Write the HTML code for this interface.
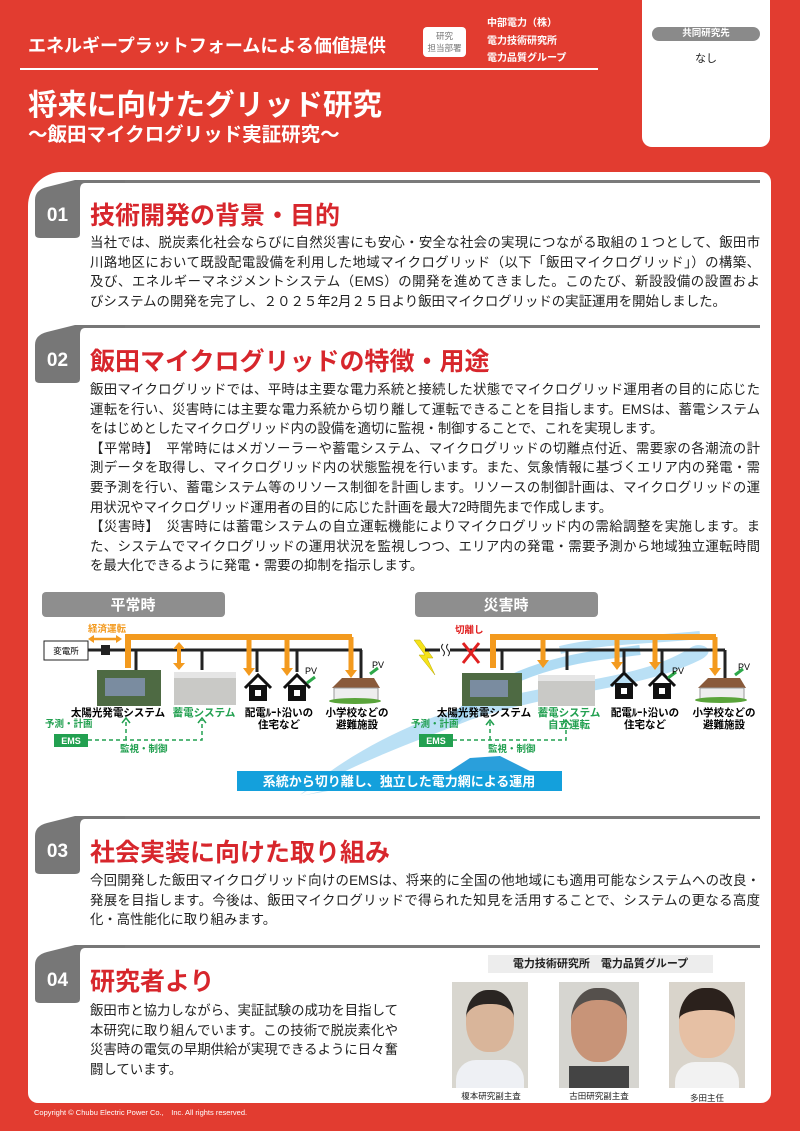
<!DOCTYPE html>
<html><head><meta charset="utf-8">
<style>
*{margin:0;padding:0;box-sizing:border-box}
body{width:800px;height:1131px;position:relative;overflow:hidden;background:#e23c30;font-family:"Liberation Sans","Noto Sans CJK JP",sans-serif;color:#222}
.a{position:absolute;white-space:nowrap}
.card{position:absolute;left:28px;top:172px;width:743px;height:931px;background:#fff;border-radius:34px 10px 10px 10px}
.sec-line{position:absolute;left:78px;width:682px;height:3px;background:#7a7a7a}
.tab{position:absolute;left:35px;width:90px;height:60px}
.tab span{position:absolute;left:0;top:14px;width:45px;text-align:center;color:#fff;font-weight:bold;font-size:19px;line-height:44px}
.h{position:absolute;left:90px;color:#d7262c;font-weight:bold;font-size:25px;white-space:nowrap}
.p{position:absolute;left:90px;width:670px;font-size:13.4px;line-height:19.6px}
.p div{text-align:justify;text-align-last:justify;white-space:nowrap;overflow:visible}
.p div.l{text-align-last:left}
</style></head><body>
<!-- header -->
<div class="a" style="left:28px;top:32px;color:#fff;font-weight:bold;font-size:18px">エネルギープラットフォームによる価値提供</div>
<div class="a" style="left:423px;top:27px;width:43px;height:30px;background:#fff;border-radius:4px;color:#777;font-size:8.5px;text-align:center;line-height:12px;padding-top:3px">研究<br>担当部署</div>
<div class="a" style="left:487px;top:15px;color:#fff;font-weight:bold;font-size:10px;line-height:17.5px">中部電力（株）<br>電力技術研究所<br>電力品質グループ</div>
<div class="a" style="left:20px;top:68px;width:578px;height:2px;background:#fff"></div>
<div class="a" style="left:28px;top:82px;color:#fff;font-weight:bold;font-size:29.5px">将来に向けたグリッド研究</div>
<div class="a" style="left:28px;top:118px;color:#fff;font-weight:bold;font-size:19.5px">～飯田マイクログリッド実証研究～</div>
<div class="a" style="left:642px;top:-10px;width:128px;height:157px;background:#fff;border-radius:10px"></div>
<div class="a" style="left:652px;top:27px;width:108px;height:14px;background:#8a8a8a;border-radius:7px;color:#fff;font-weight:bold;font-size:9.5px;text-align:center;line-height:14px">共同研究先</div>
<div class="a" style="left:695px;top:50px;font-size:11px">なし</div>

<div class="card"></div>

<!-- 01 -->
<div class="sec-line" style="top:180px"></div>
<div class="tab" style="top:180px"><svg width="90" height="60"><path d="M0,54 V20 Q0,10 12,7 L40,0 H90 V3 H50 Q45,3 45,10 V54 Q45,58 40,58 H5 Q0,58 0,54Z" fill="#777"/></svg><span>01</span></div>
<div class="h" style="top:196px">技術開発の背景・目的</div>
<div class="p" style="top:233px">
<div>当社では、脱炭素化社会ならびに自然災害にも安心・安全な社会の実現につながる取組の１つとして、飯田市</div>
<div>川路地区において既設配電設備を利用した地域マイクログリッド（以下「飯田マイクログリッド」）の構築、</div>
<div>及び、エネルギーマネジメントシステム（EMS）の開発を進めてきました。このたび、新設設備の設置およ</div>
<div class="l">びシステムの開発を完了し、２０２５年2月２５日より飯田マイクログリッドの実証運用を開始しました。</div>
</div>

<!-- 02 -->
<div class="sec-line" style="top:325px"></div>
<div class="tab" style="top:325px"><svg width="90" height="60"><path d="M0,54 V20 Q0,10 12,7 L40,0 H90 V3 H50 Q45,3 45,10 V54 Q45,58 40,58 H5 Q0,58 0,54Z" fill="#777"/></svg><span>02</span></div>
<div class="h" style="top:342px">飯田マイクログリッドの特徴・用途</div>
<div class="p" style="top:380px">
<div>飯田マイクログリッドでは、平時は主要な電力系統と接続した状態でマイクログリッド運用者の目的に応じた</div>
<div>運転を行い、災害時には主要な電力系統から切り離して運転できることを目指します。EMSは、蓄電システム</div>
<div class="l">をはじめとしたマイクログリッド内の設備を適切に監視・制御することで、これを実現します。</div>
<div>【平常時】　平常時にはメガソーラーや蓄電システム、マイクログリッドの切離点付近、需要家の各潮流の計</div>
<div>測データを取得し、マイクログリッド内の状態監視を行います。また、気象情報に基づくエリア内の発電・需</div>
<div>要予測を行い、蓄電システム等のリソース制御を計画します。リソースの制御計画は、マイクログリッドの運</div>
<div class="l">用状況やマイクログリッド運用者の目的に応じた計画を最大72時間先まで作成します。</div>
<div>【災害時】　災害時には蓄電システムの自立運転機能によりマイクログリッド内の需給調整を実施します。ま</div>
<div>た、システムでマイクログリッドの運用状況を監視しつつ、エリア内の発電・需要予測から地域独立運転時間</div>
<div class="l">を最大化できるように発電・需要の抑制を指示します。</div>
</div>

<!-- diagram -->
<svg class="a" style="left:0;top:585px" width="800" height="215" viewBox="0 585 800 215" font-family="Liberation Sans, Noto Sans CJK JP, sans-serif">
<path d="M300,795 C360,760 420,740 470,720 C560,690 640,690 700,660 C720,650 700,640 690,648 C640,680 560,680 470,705 C400,725 340,760 300,795z" fill="#a9d8f2" opacity="0.8"/>
<path d="M455,720 C480,690 530,665 600,655 L640,650" stroke="#9bd2f0" stroke-width="10" fill="none" opacity="0.8"/>
<path d="M560,650 C600,640 650,640 700,635" stroke="#a9d8f2" stroke-width="8" fill="none" opacity="0.8"/>
<rect x="42" y="592" width="183" height="25" rx="4" fill="#8e8e8e"/>
<text x="133" y="610" fill="#fff" font-size="15" font-weight="bold" text-anchor="middle">平常時</text>
<rect x="415" y="592" width="183" height="25" rx="4" fill="#8e8e8e"/>
<text x="506" y="610" fill="#fff" font-size="15" font-weight="bold" text-anchor="middle">災害時</text>

<text x="88" y="632" fill="#f39a1e" font-size="9.5" font-weight="bold">経済運転</text>
<path d="M92,639 H118" stroke="#f39a1e" stroke-width="2.5"/>
<path d="M88,639 l6,-4 v8z M122,639 l-6,-4 v8z" fill="#f39a1e"/>
<rect x="44" y="641" width="44" height="19" fill="#fff" stroke="#222"/>
<text x="66" y="654" font-size="8.5" text-anchor="middle">変電所</text>
<path d="M88,650 H362" stroke="#222" stroke-width="3"/>
<rect x="101" y="645" width="9" height="10" fill="#222"/>
<path d="M136,650V670 M202,650V670 M257,650V672 M297,650V672 M361,650V680" stroke="#222" stroke-width="3"/>
<path d="M128,668 V637 H352" stroke="#f39a1e" stroke-width="6" fill="none"/>
<path d="M179,648 V664" stroke="#f39a1e" stroke-width="4"/><path d="M173,649 l6,-7 l6,7z M173,663 l6,7 l6,-7z" fill="#f39a1e"/>
<path d="M249,637V668 M287,637V668 M351,637V670" stroke="#f39a1e" stroke-width="5"/>
<path d="M243,668h12l-6,8z M281,668h12l-6,8z M345,670h12l-6,8z" fill="#f39a1e"/>
<rect x="97" y="670" width="64" height="36" fill="#4e6a43"/><rect x="105" y="678" width="40" height="18" fill="#7a8ca0"/>
<rect x="174" y="672" width="62" height="33" fill="#c9c9c6"/><rect x="174" y="672" width="62" height="6" fill="#e5e5e5"/>
<path d="M245,688 l13,-13 l13,13 M284,688 l13,-13 l13,13" stroke="#111" stroke-width="3" fill="none"/>
<rect x="249" y="685" width="18" height="16" fill="#111"/><rect x="288" y="685" width="18" height="16" fill="#111"/>
<rect x="255" y="690" width="6" height="6" fill="#fff"/><rect x="294" y="690" width="6" height="6" fill="#fff"/>
<path d="M307,683 l8,-6 M370,674 l8,-6" stroke="#2ea84a" stroke-width="3"/>
<text x="305" y="674" font-size="9">PV</text><text x="372" y="668" font-size="9">PV</text>
<path d="M332,688 l10,-10 h32 l6,10z" fill="#8a5a3a"/><rect x="334" y="688" width="44" height="12" fill="#eee" stroke="#999"/>
<ellipse cx="355" cy="701" rx="26" ry="3" fill="#5aa43a"/>
<g font-size="10.5" font-weight="bold">
<text x="118" y="716" text-anchor="middle">太陽光発電システム</text>
<text x="204" y="716" text-anchor="middle" fill="#22a050">蓄電システム</text>
<text x="279" y="716" text-anchor="middle">配電ﾙｰﾄ沿いの</text>
<text x="279" y="728" text-anchor="middle">住宅など</text>
<text x="357" y="716" text-anchor="middle">小学校などの</text>
<text x="357" y="728" text-anchor="middle">避難施設</text>
</g>
<text x="45" y="727" font-size="9.5" font-weight="bold" fill="#22a050">予測・計画</text>
<rect x="54" y="734" width="34" height="13" fill="#22a050"/><text x="71" y="744" font-size="9" font-weight="bold" fill="#fff" text-anchor="middle">EMS</text>
<path d="M88,740 H202 V720 M126,740 V720" stroke="#22a050" stroke-width="1.5" stroke-dasharray="4,3" fill="none"/>
<path d="M122,723 l4,-5 l4,5 M198,723 l4,-5 l4,5" stroke="#22a050" stroke-width="1.5" fill="none"/>
<text x="120" y="752" font-size="9.5" font-weight="bold" fill="#22a050">監視・制御</text>

<path d="M420,640 l13,18 h-6 l8,17 l-16,-20 h6 l-11,-15z" fill="#f5e21a" stroke="#b8a800" stroke-width="0.5"/>
<path d="M425,650 H725" stroke="#222" stroke-width="3"/>
<rect x="440" y="643" width="10" height="14" fill="#fff"/>
<path d="M443,644 q-3,3 0,6 q3,3 0,6 M448,644 q-3,3 0,6 q3,3 0,6" stroke="#222" fill="none"/>
<path d="M463,643 l16,20 M479,643 l-16,20" stroke="#e02020" stroke-width="3"/>
<text x="455" y="633" font-size="9.5" font-weight="bold" fill="#e02020">切離し</text>
<path d="M502,650V670 M567,650V670 M624,650V672 M662,650V672 M725,650V680" stroke="#222" stroke-width="3"/>
<path d="M493,668 V637 H716" stroke="#f39a1e" stroke-width="6" fill="none"/>
<path d="M543,637V660 M617,637V662 M655,637V662 M715,637V668" stroke="#f39a1e" stroke-width="5"/>
<path d="M537,660h12l-6,8z M611,662h12l-6,8z M649,662h12l-6,8z M709,668h12l-6,8z" fill="#f39a1e"/>
<rect x="462" y="673" width="60" height="33" fill="#4e6a43"/><rect x="470" y="680" width="38" height="17" fill="#7a8ca0"/>
<rect x="538" y="675" width="57" height="31" fill="#c9c9c6"/><rect x="538" y="675" width="57" height="6" fill="#e5e5e5"/>
<path d="M611,686 l13,-13 l13,13 M649,686 l13,-13 l13,13" stroke="#111" stroke-width="3" fill="none"/>
<rect x="615" y="683" width="18" height="16" fill="#111"/><rect x="653" y="683" width="18" height="16" fill="#111"/>
<rect x="621" y="688" width="6" height="6" fill="#fff"/><rect x="659" y="688" width="6" height="6" fill="#fff"/>
<path d="M668,678 l8,-6 M735,675 l8,-6" stroke="#2ea84a" stroke-width="3"/>
<text x="672" y="674" font-size="9">PV</text><text x="738" y="670" font-size="9">PV</text>
<path d="M698,688 l10,-10 h32 l6,10z" fill="#8a5a3a"/><rect x="700" y="688" width="44" height="12" fill="#eee" stroke="#999"/>
<ellipse cx="721" cy="700" rx="26" ry="3" fill="#5aa43a"/>
<g font-size="10.5" font-weight="bold">
<text x="484" y="716" text-anchor="middle">太陽光発電システム</text>
<text x="569" y="716" text-anchor="middle" fill="#22a050">蓄電システム</text>
<text x="569" y="728" text-anchor="middle" fill="#22a050">自立運転</text>
<text x="645" y="716" text-anchor="middle">配電ﾙｰﾄ沿いの</text>
<text x="645" y="728" text-anchor="middle">住宅など</text>
<text x="724" y="716" text-anchor="middle">小学校などの</text>
<text x="724" y="728" text-anchor="middle">避難施設</text>
</g>
<text x="411" y="727" font-size="9.5" font-weight="bold" fill="#22a050">予測・計画</text>
<rect x="419" y="734" width="34" height="13" fill="#22a050"/><text x="436" y="744" font-size="9" font-weight="bold" fill="#fff" text-anchor="middle">EMS</text>
<path d="M453,740 H566 V722 M490,740 V722" stroke="#22a050" stroke-width="1.5" stroke-dasharray="4,3" fill="none"/>
<path d="M486,725 l4,-5 l4,5 M562,725 l4,-5 l4,5" stroke="#22a050" stroke-width="1.5" fill="none"/>
<text x="488" y="752" font-size="9.5" font-weight="bold" fill="#22a050">監視・制御</text>

<path d="M300,796 C330,790 360,780 380,771 L440,771 Z" fill="#b9e1f4"/>
<path d="M450,771 L470,758 L500,756 L530,771 Z" fill="#2a9fdb"/>
<rect x="237" y="771" width="325" height="20" fill="#14a0dc"/>
<text x="399" y="786" fill="#fff" font-size="13" font-weight="bold" text-anchor="middle">系統から切り離し、独立した電力網による運用</text>
</svg>

<!-- 03 -->
<div class="sec-line" style="top:816px"></div>
<div class="tab" style="top:816px"><svg width="90" height="60"><path d="M0,54 V20 Q0,10 12,7 L40,0 H90 V3 H50 Q45,3 45,10 V54 Q45,58 40,58 H5 Q0,58 0,54Z" fill="#777"/></svg><span>03</span></div>
<div class="h" style="top:833px">社会実装に向けた取り組み</div>
<div class="p" style="top:871px">
<div>今回開発した飯田マイクログリッド向けのEMSは、将来的に全国の他地域にも適用可能なシステムへの改良・</div>
<div>発展を目指します。今後は、飯田マイクログリッドで得られた知見を活用することで、システムの更なる高度</div>
<div class="l">化・高性能化に取り組みます。</div>
</div>

<!-- 04 -->
<div class="sec-line" style="top:945px"></div>
<div class="tab" style="top:945px"><svg width="90" height="60"><path d="M0,54 V20 Q0,10 12,7 L40,0 H90 V3 H50 Q45,3 45,10 V54 Q45,58 40,58 H5 Q0,58 0,54Z" fill="#777"/></svg><span>04</span></div>
<div class="h" style="top:962px">研究者より</div>
<div class="p" style="top:1001px;width:308px">
<div>飯田市と協力しながら、実証試験の成功を目指して</div>
<div>本研究に取り組んでいます。この技術で脱炭素化や</div>
<div>災害時の電気の早期供給が実現できるように日々奮</div>
<div class="l">闘しています。</div>
</div>
<div class="a" style="left:488px;top:955px;width:225px;height:18px;background:#ededed;font-weight:bold;font-size:11px;text-align:center;line-height:18px">電力技術研究所　電力品質グループ</div>
<div class="a" style="left:452px;top:982px;width:76px;height:106px;background:#d8d6cf"><div style="position:absolute;left:14px;top:8px;width:48px;height:62px;border-radius:45%;background:#d9b59a;border-top:14px solid #2a2522"></div><div style="position:absolute;left:4px;top:78px;width:68px;height:28px;background:#eef0f4;border-radius:20px 20px 0 0"></div></div>
<div class="a" style="left:559px;top:982px;width:80px;height:106px;background:#d6d5d0"><div style="position:absolute;left:12px;top:6px;width:56px;height:74px;border-radius:45%;background:#c89478;border-top:12px solid #55504c"></div><div style="position:absolute;left:10px;top:84px;width:60px;height:22px;background:#444"></div></div>
<div class="a" style="left:669px;top:982px;width:76px;height:106px;background:#d9d4cb"><div style="position:absolute;left:10px;top:6px;width:56px;height:70px;border-radius:45%;background:#e6c0a4;border-top:22px solid #2b211c"></div><div style="position:absolute;left:6px;top:80px;width:64px;height:26px;background:#f2f2f2;border-radius:20px 20px 0 0"></div></div>
<div class="a" style="left:453px;top:1090px;width:76px;text-align:center;font-size:8.5px">榎本研究副主査</div>
<div class="a" style="left:559px;top:1090px;width:80px;text-align:center;font-size:8.5px">古田研究副主査</div>
<div class="a" style="left:669px;top:1092px;width:76px;text-align:center;font-size:8.5px">多田主任</div>

<div class="a" style="left:34px;top:1107px;color:#fff;font-size:7.5px">Copyright © Chubu Electric Power Co.,　Inc. All rights reserved.</div>
</body></html>
